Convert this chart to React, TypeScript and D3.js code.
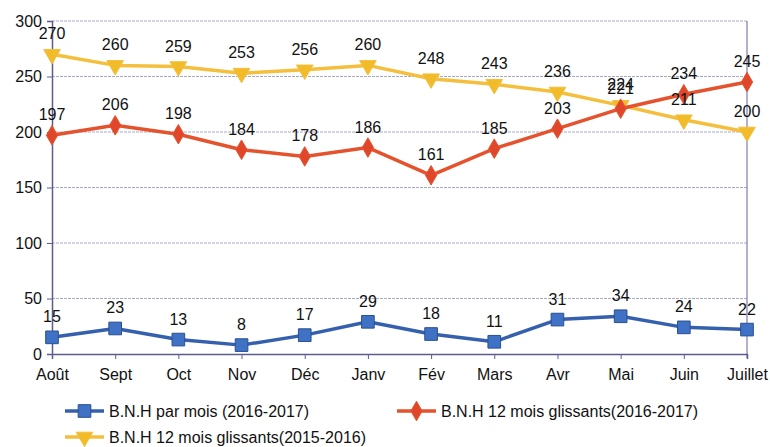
import React, { useEffect, useRef } from 'react';
import * as d3 from 'd3';

// months on the x axis
const months = ['Août', 'Sept', 'Oct', 'Nov', 'Déc', 'Janv', 'Fév', 'Mars', 'Avr', 'Mai', 'Juin', 'Juillet'];

// B.N.H par mois (2016-2017)
const parMois = [15, 23, 13, 8, 17, 29, 18, 11, 31, 34, 24, 22];
// B.N.H 12 mois glissants (2016-2017)
const glissants1617 = [197, 206, 198, 184, 178, 186, 161, 185, 203, 221, 234, 245];
// B.N.H 12 mois glissants (2015-2016)
const glissants1516 = [270, 260, 259, 253, 256, 260, 248, 243, 236, 224, 211, 200];

const yTicks = [0, 50, 100, 150, 200, 250, 300];

const seriesNames = [
  'B.N.H par mois (2016-2017)',
  'B.N.H 12 mois glissants(2016-2017)',
  'B.N.H 12 mois glissants(2015-2016)',
];

const FONT = '"Liberation Sans", Arial, sans-serif';

export default function App() {
  const ref = useRef<SVGSVGElement>(null);

  useEffect(() => {
    const svg = d3.select(ref.current);
    svg.selectAll('*').remove();

    const left = 52, right = 747, top = 21, bottom = 354;

    const x = d3.scalePoint<string>().domain(months).range([left, right]);
    const y = d3.scaleLinear().domain([0, 300]).range([bottom, top]);

    // gridlines
    svg.append('g')
      .selectAll('line')
      .data(yTicks.filter(t => t > 0))
      .enter()
      .append('line')
      .attr('x1', left)
      .attr('x2', right)
      .attr('y1', d => y(d))
      .attr('y2', d => y(d))
      .attr('stroke', '#a9a9cc')
      .attr('stroke-width', 1.2)
      .attr('stroke-dasharray', '3,1');

    // right border
    svg.append('line')
      .attr('x1', right).attr('x2', right)
      .attr('y1', top).attr('y2', bottom + 4)
      .attr('stroke', '#7c7cae').attr('stroke-width', 1.2);

    // y axis
    const yAxis = svg.append('g')
      .attr('transform', `translate(${left},0)`)
      .call(d3.axisLeft(y).tickValues(yTicks).tickSize(5).tickPadding(5));
    yAxis.select('.domain').attr('stroke', '#5c5c90').attr('stroke-width', 1.5);
    yAxis.selectAll('.tick line').attr('stroke', '#5c5c90');
    yAxis.selectAll('text')
      .attr('font-family', FONT).attr('font-size', 16).attr('fill', '#111');

    // x axis
    const xAxis = svg.append('g')
      .attr('transform', `translate(0,${bottom})`)
      .call(d3.axisBottom(x).tickSize(5).tickPadding(10));
    xAxis.select('.domain').attr('stroke', '#5c5c90').attr('stroke-width', 1.5);
    xAxis.selectAll('.tick line').attr('stroke', '#5c5c90');
    xAxis.selectAll('text')
      .attr('font-family', FONT).attr('font-size', 16).attr('fill', '#111');

    const line = d3.line<number>()
      .x((_, i) => x(months[i]) as number)
      .y(d => y(d));

    const series = [
      { values: glissants1516, color: '#f4bf3c', marker: 'tri', fill: '#f2bb2a' },
      { values: glissants1617, color: '#e5532e', marker: 'dia', fill: '#e0472a' },
      { values: parMois, color: '#3560ae', marker: 'sq', fill: '#3f72c4' },
    ];

    const symbolFor = (m: string) =>
      m === 'sq' ? d3.symbol().type(d3.symbolSquare).size(160)
        : m === 'dia' ? d3.symbol().type(d3.symbolDiamond).size(110)
          : d3.symbol().type(d3.symbolTriangle).size(120);

    series.forEach(s => {
      svg.append('path')
        .datum(s.values)
        .attr('d', line)
        .attr('fill', 'none')
        .attr('stroke', s.color)
        .attr('stroke-width', 3.5)
        .attr('stroke-linejoin', 'round');

      svg.append('g')
        .selectAll('path')
        .data(s.values)
        .enter()
        .append('path')
        .attr('d', symbolFor(s.marker) as any)
        .attr('transform', (d, i) => `translate(${x(months[i])},${y(d)})${s.marker === 'tri' ? ' rotate(180)' : ''}`)
        .attr('fill', s.fill)
        .attr('stroke', s.marker === 'sq' ? '#2a4f92' : s.color)
        .attr('stroke-width', 1);
    });

    // value labels
    series.forEach(s => {
      svg.append('g')
        .selectAll('text')
        .data(s.values)
        .enter()
        .append('text')
        .attr('x', (_, i) => x(months[i]) as number)
        .attr('y', d => y(d) - 15)
        .attr('text-anchor', 'middle')
        .attr('font-family', FONT)
        .attr('font-size', 16)
        .attr('fill', '#111')
        .text(d => d);
    });

    // legend
    const legend = [
      { name: seriesNames[0], x: 65, y: 411, color: '#3560ae', marker: 'sq', fill: '#3f72c4' },
      { name: seriesNames[1], x: 397, y: 411, color: '#e5532e', marker: 'dia', fill: '#e0472a' },
      { name: seriesNames[2], x: 65, y: 437, color: '#f4bf3c', marker: 'tri', fill: '#f2bb2a' },
    ];
    const lg = svg.append('g').selectAll('g').data(legend).enter().append('g')
      .attr('transform', d => `translate(${d.x},${d.y})`);
    lg.append('line')
      .attr('x1', 0).attr('x2', 39).attr('y1', 0).attr('y2', 0)
      .attr('stroke', d => d.color).attr('stroke-width', 3.5);
    lg.append('path')
      .attr('d', d => symbolFor(d.marker)() as string)
      .attr('transform', d => `translate(19.5,0)${d.marker === 'tri' ? ' rotate(180)' : ''}`)
      .attr('fill', d => d.fill)
      .attr('stroke', d => (d.marker === 'sq' ? '#2a4f92' : d.color));
    lg.append('text')
      .attr('x', 44).attr('y', 6)
      .attr('font-family', FONT).attr('font-size', 16).attr('fill', '#111')
      .text(d => d.name);
  }, []);

  return (
    <svg ref={ref} width={770} height={447}
      style={{ position: 'absolute', left: 0, top: 0, background: '#fff' }} />
  );
}
